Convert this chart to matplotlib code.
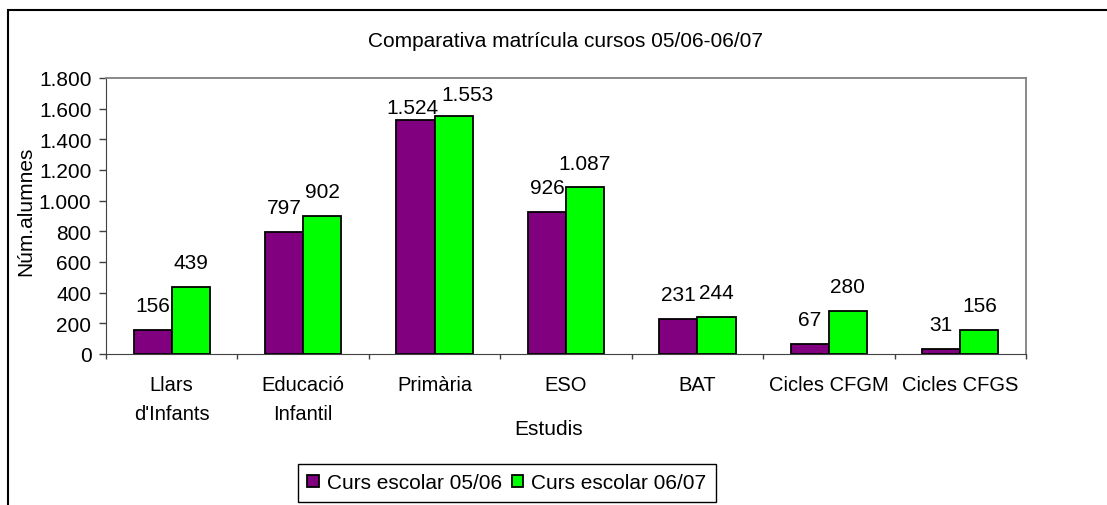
import matplotlib
matplotlib.use('Agg')
import matplotlib.pyplot as plt
import matplotlib.patches as patches
import numpy as np

# dades llegides del gràfic
categories = ["Llars\nd'Infants", "Educació\nInfantil", "Primària", "ESO", "BAT", "Cicles CFGM", "Cicles CFGS"]
curs_0506 = [156, 797, 1524, 926, 231, 67, 31]
curs_0607 = [439, 902, 1553, 1087, 244, 280, 156]
series_names = ["Curs escolar 05/06", "Curs escolar 06/07"]

plt.rcParams['font.family'] = ['Liberation Sans', 'DejaVu Sans']
plt.rcParams['font.size'] = 15


def fmt(v):
    return f"{v:,}".replace(",", ".")


fig = plt.figure(figsize=(11.07, 5.06), dpi=100)
ax = fig.add_axes([106 / 1107, 1 - 355 / 506, 920 / 1107, 276 / 506])

x = np.arange(len(categories))
w = 0.29
b1 = ax.bar(x - w / 2, curs_0506, w, color='#800080', edgecolor='black', linewidth=1.3, label=series_names[0])
b2 = ax.bar(x + w / 2, curs_0607, w, color='#00FF00', edgecolor='black', linewidth=1.3, label=series_names[1])

# etiquetes de valor (Excel les separa quan xoquen a Primària)
nudge = {(0, 2): (-2, 5.5), (1, 2): (10, 11.5)}
for s, (bars, vals) in enumerate([(b1, curs_0506), (b2, curs_0607)]):
    for i, (r, v) in enumerate(zip(bars, vals)):
        dx, dy = nudge.get((s, i), (0, 13.5))
        ax.annotate(fmt(v), (r.get_x() + r.get_width() / 2, v), xytext=(dx, dy),
                    textcoords='offset points', ha='center', va='baseline', fontsize=15)

ax.set_xlim(-0.5, len(categories) - 0.5)
ax.set_ylim(0, 1800)
ax.set_yticks(range(0, 1801, 200))
ax.set_yticklabels([fmt(v) for v in range(0, 1801, 200)])
ax.set_xticks(x)
ax.set_xticklabels(categories, linespacing=1.7, fontsize=14.5)
ax.set_xticks(np.arange(-0.5, len(categories)), minor=True)
ax.tick_params(axis='x', which='major', length=0, pad=15)
ax.tick_params(axis='x', which='minor', length=3.5, width=1, color='#404040')
ax.tick_params(axis='y', length=5, width=1, color='#404040', pad=5.5)

for s in ['top', 'right']:
    ax.spines[s].set_color('#808080')
    ax.spines[s].set_linewidth(1.3)
for s in ['left', 'bottom']:
    ax.spines[s].set_color('#404040')

ax.set_title("Comparativa matrícula cursos 05/06-06/07", fontsize=15, pad=23)
ax.set_xlabel("Estudis", fontsize=15, va='center')
ax.xaxis.set_label_coords((549 - 106) / 920, -(430 - 355) / 276)
ax.set_ylabel("Núm.alumnes", fontsize=15)
ax.yaxis.set_label_coords(-(106 - 35) / 920, (355 - 211) / 276)

fig.legend(loc='center', bbox_to_anchor=(507 / 1107, 1 - 484 / 506), ncol=2,
           frameon=True, fancybox=False, edgecolor='black', framealpha=1,
           handlelength=0.55, handleheight=0.55, handletextpad=0.4, columnspacing=0.45,
           borderpad=0.45, borderaxespad=0, fontsize=15)

frame = patches.Rectangle((8 / 1107, -0.05), 1.2, 1 - 11 / 506 + 0.05,
                          transform=fig.transFigure, fill=False, edgecolor='black',
                          linewidth=1.5, clip_on=False)
fig.add_artist(frame)

plt.savefig('out.png', dpi=100)
plt.close()
